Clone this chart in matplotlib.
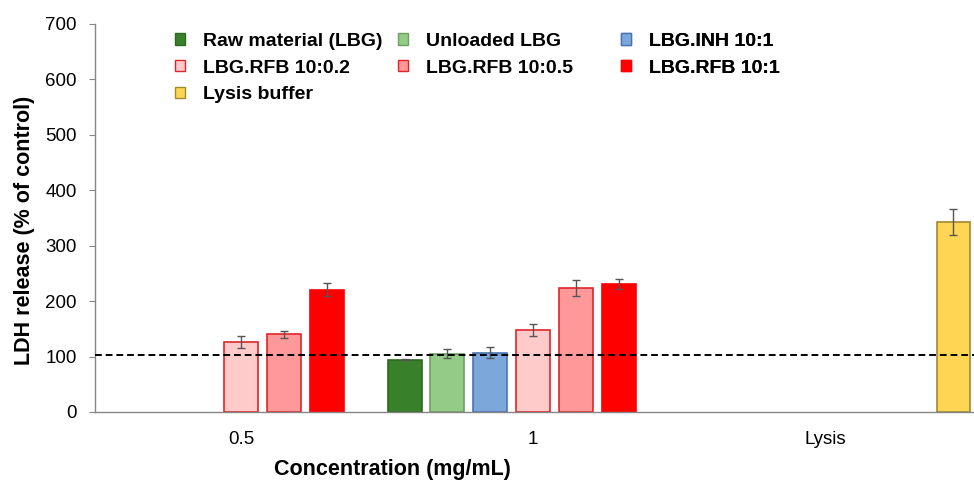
import numpy as np
import matplotlib.pyplot as plt
from matplotlib.patches import Patch

plt.rcParams['font.family'] = ['Liberation Sans', 'DejaVu Sans']

categories = ['0.5', '1', 'Lysis']
series_names = ['Raw material (LBG)', 'Unloaded LBG', 'LBG.INH 10:1',
                'LBG.RFB 10:0.2', 'LBG.RFB 10:0.5', 'LBG.RFB 10:1', 'Lysis buffer']

# mean LDH release per concentration (nan = not measured)
raw_lbg = [np.nan, 94, np.nan]
unloaded_lbg = [np.nan, 105, np.nan]
lbg_inh = [np.nan, 107, np.nan]
lbg_rfb_02 = [127, 148, np.nan]
lbg_rfb_05 = [140, 224, np.nan]
lbg_rfb_1 = [221, 231, np.nan]
lysis = [np.nan, np.nan, 343]

raw_lbg_sd = [0, 1, 0]
unloaded_lbg_sd = [0, 8, 0]
lbg_inh_sd = [0, 10, 0]
lbg_rfb_02_sd = [11, 11, 0]
lbg_rfb_05_sd = [7, 14, 0]
lbg_rfb_1_sd = [11, 9, 0]
lysis_sd = [0, 0, 24]

control_level = 103

values = [raw_lbg, unloaded_lbg, lbg_inh, lbg_rfb_02, lbg_rfb_05, lbg_rfb_1, lysis]
errors = [raw_lbg_sd, unloaded_lbg_sd, lbg_inh_sd, lbg_rfb_02_sd, lbg_rfb_05_sd,
          lbg_rfb_1_sd, lysis_sd]
fills = ['#38802A', '#93CD85', '#7BA7DA', '#FFCACA', '#FF9999', '#FF0000', '#FFD653']
edges = ['#2D6A20', '#6F9F63', '#4A74B0', '#E0252A', '#E0252A', '#FF0000', '#A08A30']

fig = plt.figure(figsize=(9.74, 4.83), dpi=100)
ax = fig.add_axes([95 / 974, 71 / 483, 1 - 95 / 974, 388 / 483])

x = np.arange(len(categories))
step = 0.1466
width = 0.116
handles = []
for i, (vals, errs) in enumerate(zip(values, errors)):
    pos = x + (i - 3) * step
    ax.bar(pos, vals, width, color=fills[i], edgecolor=edges[i], linewidth=1.2, zorder=2)
    errs_masked = [e if e > 0 else np.nan for e in errs]
    ax.errorbar(pos, vals, yerr=errs_masked, fmt='none', ecolor='#555555',
                elinewidth=1, capsize=3, capthick=1, zorder=3)
    handles.append(Patch(facecolor=fills[i], edgecolor=edges[i], linewidth=1))

ax.axhline(control_level, color='black', linestyle=(0, (3.5, 2)), linewidth=1.4, zorder=4)

ax.set_xlim(-0.5, 2.51)
ax.set_ylim(0, 700)
ax.set_yticks(np.arange(0, 701, 100))
ax.set_xticks(x)
ax.set_xticklabels(categories)

for side in ['top', 'right']:
    ax.spines[side].set_visible(False)
for side in ['left', 'bottom']:
    ax.spines[side].set_color('#868686')
    ax.spines[side].set_linewidth(1)
ax.tick_params(axis='y', direction='out', length=4, color='#868686', labelsize=13.5, pad=9)
ax.tick_params(axis='x', length=0, labelsize=13.5, pad=14)

ax.set_ylabel('LDH release (% of control)', fontsize=15.5, fontweight='bold')
ax.yaxis.set_label_coords(-0.068, 0.469)
fig.text(392 / 974, 1 - 470 / 483, 'Concentration (mg/mL)', fontsize=15.5,
         fontweight='bold', ha='center', va='center')

# legend laid out row-wise in three columns
columns = [[0, 3, 6], [1, 4], [2, 5]]
col_x = [175, 398, 621]
for col, left in zip(columns, col_x):
    leg = ax.legend([handles[k] for k in col], [series_names[k] for k in col],
                    loc='upper left', bbox_to_anchor=(left / 974, 1 - 33 / 483),
                    bbox_transform=fig.transFigure, frameon=False,
                    prop={'size': 14, 'weight': 'bold'},
                    handlelength=0.52, handleheight=0.52, handletextpad=0.93,
                    labelspacing=0.5, borderpad=0, borderaxespad=0)
    ax.add_artist(leg)

fig.savefig('out.png', dpi=100)
